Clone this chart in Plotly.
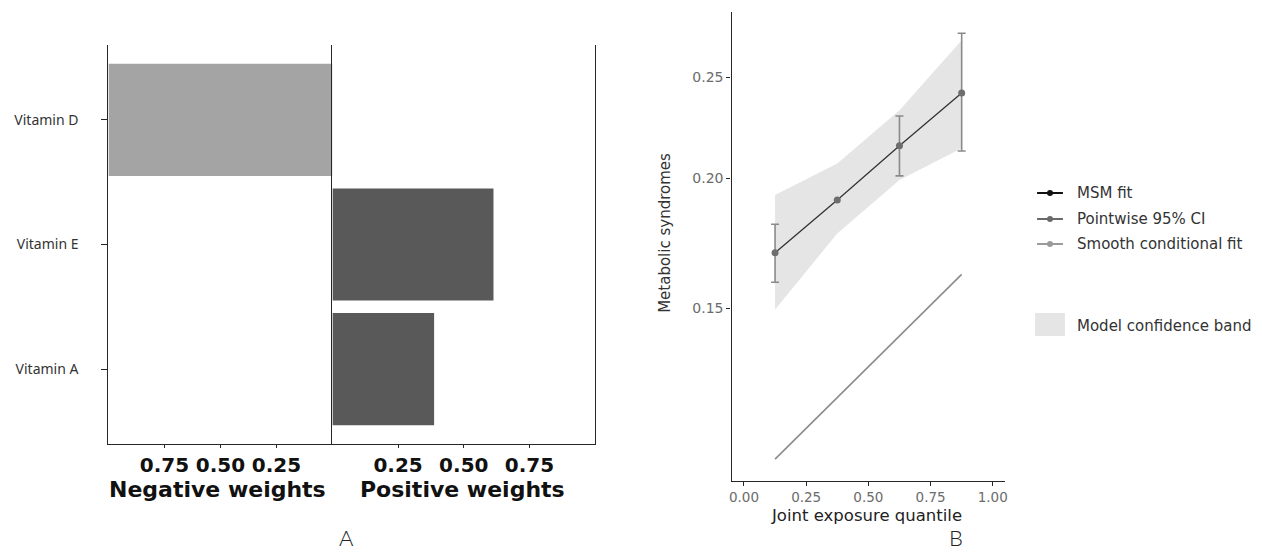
import plotly.graph_objects as go

W, H = 1262, 552

# ---------------- data ----------------
vitamins = ["Vitamin A", "Vitamin E", "Vitamin D"]
neg_vitamins = ["Vitamin D"]
neg_weights = [1.0]
pos_vitamins = ["Vitamin E", "Vitamin A"]
pos_weights = [0.613, 0.387]
neg_ticks = [0.25, 0.50, 0.75]
neg_ticklabels = ["0.25", "0.50", "0.75"]
pos_ticks = [0.25, 0.50, 0.75]
pos_ticklabels = ["0.25", "0.50", "0.75"]

quantiles = [0.125, 0.375, 0.625, 0.875]
msm_fit = [0.1696, 0.1906, 0.2150, 0.2416]
ci_q = [0.125, 0.625, 0.875]
ci_mid = [0.1696, 0.2150, 0.2416]
ci_upper = [0.1807, 0.2296, 0.2758]
ci_lower = [0.1589, 0.2011, 0.2125]
band_upper = [0.1928, 0.2067, 0.2326, 0.2716]
band_lower = [0.1496, 0.1770, 0.1993, 0.2138]
smooth_fit = [0.1074, 0.1231, 0.1411, 0.1617]
b_xticks = [0.0, 0.25, 0.5, 0.75, 1.0]
b_xticklabels = ["0.00", "0.25", "0.50", "0.75", "1.00"]
b_yticks = [0.15, 0.20, 0.25]
b_yticklabels = ["0.15", "0.20", "0.25"]
legend_labels = ["MSM fit", "Pointwise 95% CI", "Smooth conditional fit", "Model confidence band"]


def px(x):
    return x / W


def py(y):
    return 1 - y / H


AX = "#262626"
fig = go.Figure()

# ---------------- Panel A ----------------
fig.add_trace(go.Bar(y=neg_vitamins, x=neg_weights, orientation="h", width=0.9,
                     marker=dict(color="#a4a4a4", line=dict(width=0)),
                     xaxis="x", yaxis="y", showlegend=False))
fig.add_trace(go.Bar(y=pos_vitamins, x=pos_weights, orientation="h", width=0.9,
                     marker=dict(color="#595959", line=dict(width=0)),
                     xaxis="x2", yaxis="y2", showlegend=False))

# ---------------- Panel B ----------------
fig.add_trace(go.Scatter(x=quantiles + quantiles[::-1], y=band_upper + band_lower[::-1],
                         fill="toself", fillcolor="#e5e5e5", line=dict(width=0),
                         mode="lines", hoverinfo="skip", xaxis="x3", yaxis="y3", showlegend=False))
fig.add_trace(go.Scatter(x=quantiles, y=smooth_fit, mode="lines",
                         line=dict(color="#8c8c8c", width=1.6),
                         xaxis="x3", yaxis="y3", showlegend=False))
fig.add_trace(go.Scatter(x=ci_q, y=ci_mid, mode="markers",
                         marker=dict(size=1, opacity=0),
                         error_y=dict(type="data", symmetric=False,
                                      array=[u - m for u, m in zip(ci_upper, ci_mid)],
                                      arrayminus=[m - l for l, m in zip(ci_lower, ci_mid)],
                                      color="#8a8a8a", thickness=1.6, width=4),
                         xaxis="x3", yaxis="y3", showlegend=False))
fig.add_trace(go.Scatter(x=quantiles, y=msm_fit, mode="lines+markers",
                         line=dict(color="#333333", width=1.3),
                         marker=dict(color="#6e6e6e", size=7),
                         xaxis="x3", yaxis="y3", showlegend=False))

tick_font_a = dict(family="DejaVu Sans", size=20, color="#111111", weight="bold")
common_line = dict(showline=True, linecolor=AX, linewidth=1.4, showgrid=False, zeroline=False)

fig.update_layout(
    width=W, height=H, autosize=False,
    margin=dict(l=0, r=0, t=0, b=0),
    paper_bgcolor="white", plot_bgcolor="rgba(0,0,0,0)",
    xaxis=dict(domain=[px(106), px(331)], range=[1.0, 0.0], anchor="y",
               tickvals=neg_ticks, ticktext=neg_ticklabels, ticks="outside", ticklen=3,
               tickcolor=AX, tickfont=tick_font_a, **common_line),
    yaxis=dict(domain=[py(444), py(45)], range=[-0.6, 2.6], anchor="x",
               categoryorder="array", categoryarray=vitamins, type="category",
               ticks="outside", ticklen=6, tickcolor=AX, ticklabelstandoff=20,
               tickfont=dict(family="Noto Sans", size=14, color="#333333"), **common_line),
    xaxis2=dict(domain=[px(331), px(595)], range=[0.0, 1.0], anchor="y2",
                tickvals=pos_ticks, ticktext=pos_ticklabels, ticks="outside", ticklen=3,
                tickcolor=AX, tickfont=tick_font_a, **common_line),
    yaxis2=dict(domain=[py(444), py(45)], range=[-0.6, 2.6], anchor="x2",
                categoryorder="array", categoryarray=vitamins, type="category",
                showticklabels=False, ticks="", mirror=True, **common_line),
    xaxis3=dict(domain=[px(732), px(1007)], range=[-0.05, 1.05], anchor="y3",
                tickvals=b_xticks, ticktext=b_xticklabels, ticks="outside", ticklen=4,
                tickcolor=AX, tickfont=dict(family="DejaVu Sans", size=13.5, color="#6b6b6b"),
                **common_line),
    yaxis3=dict(domain=[py(481), py(12)], type="log", range=[-0.990, -0.539], anchor="x3",
                tickvals=b_yticks, ticktext=b_yticklabels, ticks="outside", ticklen=4,
                tickcolor=AX, tickfont=dict(family="DejaVu Sans", size=14, color="#6b6b6b"),
                **common_line),
)


def label(text, x, y, font, **kw):
    d = dict(text=text, x=px(x), y=py(y), xref="paper", yref="paper", showarrow=False,
             xanchor="center", yanchor="middle", font=font, borderpad=0)
    d.update(kw)
    return d


ann = []
bold_title = dict(family="DejaVu Sans", size=22, color="#111111", weight="bold")
ann.append(label("Negative weights", 216, 489, bold_title))
ann.append(label("Positive weights", 462, 489, bold_title))
ab_font = dict(family="Lato", size=22, color="#222222", weight=300)
ann.append(label("A", 345, 552, ab_font, yanchor="bottom"))
ann.append(label("B", 958, 552, ab_font, yanchor="bottom"))
ann.append(label("Joint exposure quantile", 868, 515,
                 dict(family="DejaVu Sans", size=16.5, color="#222222")))
ann.append(label("Metabolic syndromes", 665, 233,
                 dict(family="DejaVu Sans", size=15, color="#333333"), textangle=-90))

# legend (manual)
leg_y = [193, 219, 244]
leg_col = ["#111111", "#6a6a6a", "#9a9a9a"]
shapes = []
for yy, col, lab in zip(leg_y, leg_col, legend_labels[:3]):
    shapes.append(dict(type="line", xref="paper", yref="paper", x0=px(1039), x1=px(1065),
                       y0=py(yy), y1=py(yy), line=dict(color=col, width=2)))
    shapes.append(dict(type="circle", xref="paper", yref="paper", x0=px(1049), x1=px(1055),
                       y0=py(yy + 3), y1=py(yy - 3), fillcolor=col, line=dict(width=0)))
    ann.append(label(lab, 1078, yy, dict(family="DejaVu Sans", size=15, color="#333333"),
                     xanchor="left"))
shapes.append(dict(type="rect", xref="paper", yref="paper", x0=px(1037), x1=px(1067),
                   y0=py(336), y1=py(313), fillcolor="#e5e5e5", line=dict(width=0)))
ann.append(label(legend_labels[3], 1078, 326, dict(family="DejaVu Sans", size=15, color="#333333"),
                 xanchor="left"))

fig.update_layout(annotations=ann, shapes=shapes)
fig.write_html("out.html", config={"displayModeBar": False},
               post_script="document.body.style.margin='0';document.body.style.overflow='hidden';")
